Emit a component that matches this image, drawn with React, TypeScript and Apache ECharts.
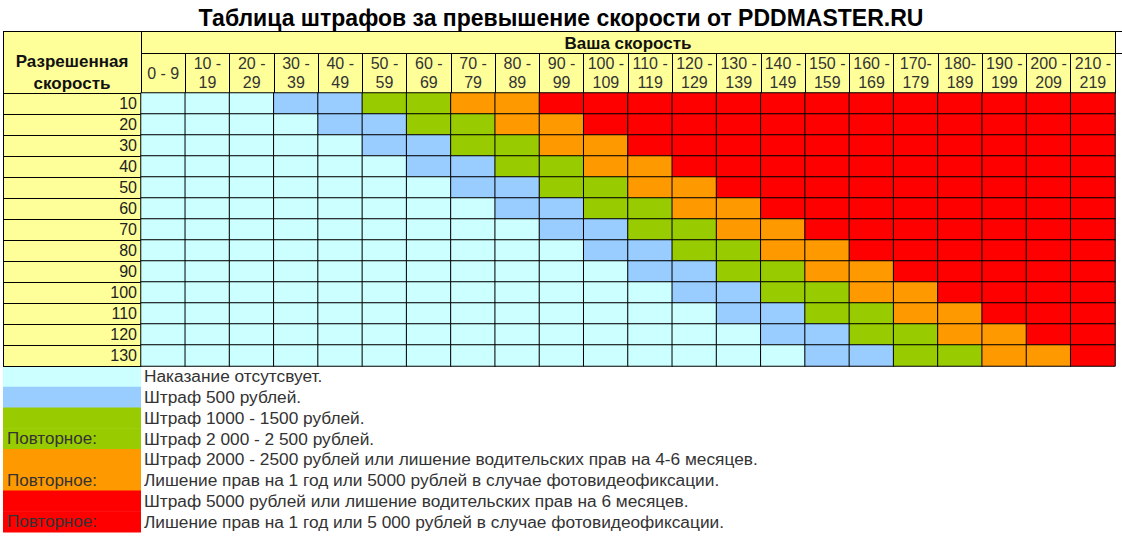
import React, { useEffect, useRef } from "react";
import * as echarts from "echarts";

// ---- Data ----
const speedRanges = [
  "0 - 9", "10 -\n19", "20 -\n29", "30 -\n39", "40 -\n49", "50 -\n59", "60 -\n69",
  "70 -\n79", "80 -\n89", "90 -\n99", "100 -\n109", "110 -\n119", "120 -\n129",
  "130 -\n139", "140 -\n149", "150 -\n159", "160 -\n169", "170-\n179", "180-\n189",
  "190 -\n199", "200 -\n209", "210 -\n219",
];
const allowedSpeeds = ["10", "20", "30", "40", "50", "60", "70", "80", "90", "100", "110", "120", "130"];

// penalty level per cell (0 none, 1 500 rub, 2 1000-1500, 3 2000-2500, 4 5000)
const row10 = [0, 0, 0, 1, 1, 2, 2, 3, 3, 4, 4, 4, 4, 4, 4, 4, 4, 4, 4, 4, 4, 4];
const row20 = [0, 0, 0, 0, 1, 1, 2, 2, 3, 3, 4, 4, 4, 4, 4, 4, 4, 4, 4, 4, 4, 4];
const row30 = [0, 0, 0, 0, 0, 1, 1, 2, 2, 3, 3, 4, 4, 4, 4, 4, 4, 4, 4, 4, 4, 4];
const row40 = [0, 0, 0, 0, 0, 0, 1, 1, 2, 2, 3, 3, 4, 4, 4, 4, 4, 4, 4, 4, 4, 4];
const row50 = [0, 0, 0, 0, 0, 0, 0, 1, 1, 2, 2, 3, 3, 4, 4, 4, 4, 4, 4, 4, 4, 4];
const row60 = [0, 0, 0, 0, 0, 0, 0, 0, 1, 1, 2, 2, 3, 3, 4, 4, 4, 4, 4, 4, 4, 4];
const row70 = [0, 0, 0, 0, 0, 0, 0, 0, 0, 1, 1, 2, 2, 3, 3, 4, 4, 4, 4, 4, 4, 4];
const row80 = [0, 0, 0, 0, 0, 0, 0, 0, 0, 0, 1, 1, 2, 2, 3, 3, 4, 4, 4, 4, 4, 4];
const row90 = [0, 0, 0, 0, 0, 0, 0, 0, 0, 0, 0, 1, 1, 2, 2, 3, 3, 4, 4, 4, 4, 4];
const row100 = [0, 0, 0, 0, 0, 0, 0, 0, 0, 0, 0, 0, 1, 1, 2, 2, 3, 3, 4, 4, 4, 4];
const row110 = [0, 0, 0, 0, 0, 0, 0, 0, 0, 0, 0, 0, 0, 1, 1, 2, 2, 3, 3, 4, 4, 4];
const row120 = [0, 0, 0, 0, 0, 0, 0, 0, 0, 0, 0, 0, 0, 0, 1, 1, 2, 2, 3, 3, 4, 4];
const row130 = [0, 0, 0, 0, 0, 0, 0, 0, 0, 0, 0, 0, 0, 0, 0, 1, 1, 2, 2, 3, 3, 4];
const levelRows = [row10, row20, row30, row40, row50, row60, row70, row80, row90, row100, row110, row120, row130];

const levelColors = ["#CCFFFF", "#99CCFF", "#99CC00", "#FF9900", "#FF0000"];

const titleText = "Таблица штрафов за превышение скорости от PDDMASTER.RU";
const rowHeaderText = "Разрешенная\nскорость";
const colHeaderText = "Ваша скорость";
const repeatLabel = "Повторное:";
const legendLevels = [0, 1, 2, 2, 3, 3, 4, 4];
const legendTexts = [
  "Наказание отсутсвует.",
  "Штраф 500 рублей.",
  "Штраф 1000 - 1500 рублей.",
  "Штраф 2 000 - 2 500 рублей.",
  "Штраф 2000 - 2500 рублей или лишение водительских прав на 4-6 месяцев.",
  "Лишение прав на 1 год или 5000 рублей в случае фотовидеофиксации.",
  "Штраф 5000 рублей или лишение водительских прав на 6 месяцев.",
  "Лишение прав на 1 год или 5 000 рублей в случае фотовидеофиксации.",
];
const legendRepeat = [false, false, false, true, false, true, false, true];

// ---- Layout ----
const W = 1122;
const H = 539;
const FONT = "'Liberation Sans', Arial, sans-serif";
const tableLeft = 3;
const gridLeft = 141;
const gridRight = 1115;
const headTop = 31;
const headMid = 53;
const gridTop = 93;
const gridBottom = 366;
const legendRowH = 20.75;

export default function App() {
  const ref = useRef<HTMLDivElement>(null);
  useEffect(() => {
    if (!ref.current) return;
    const chart = echarts.init(ref.current, null, { renderer: "svg" });

    const data: number[][] = [];
    levelRows.forEach((row, yi) => {
      row.forEach((lv, xi) => data.push([xi, yi, lv]));
    });

    const graphics: any[] = [];
    graphics.push({
      type: "rect", z: -100,
      shape: { x: tableLeft, y: headTop, width: gridRight - tableLeft, height: gridTop - headTop },
      style: { fill: "#FFFF99" },
    });
    graphics.push({
      type: "rect", z: -100,
      shape: { x: tableLeft, y: gridTop, width: gridLeft - tableLeft, height: gridBottom - gridTop },
      style: { fill: "#FFFF99" },
    });
    const line = (x1: number, y1: number, x2: number, y2: number) => ({
      type: "line", z: 100,
      shape: { x1, y1, x2, y2 },
      style: { stroke: "#000", lineWidth: 1 },
    });
    graphics.push(line(tableLeft, headTop + 0.5, W, headTop + 0.5));
    graphics.push(line(gridLeft, headMid + 0.5, W, headMid + 0.5));
    graphics.push(line(tableLeft + 0.5, headTop, tableLeft + 0.5, gridBottom));
    graphics.push(line(gridLeft + 0.5, headTop, gridLeft + 0.5, headMid));
    graphics.push(line(gridRight + 0.5, headTop, gridRight + 0.5, headMid));

    graphics.push({
      type: "text", z: 100, x: W / 2, y: 18,
      style: {
        text: titleText, fill: "#000", font: `bold 23px ${FONT}`,
        align: "center", verticalAlign: "middle",
      },
    });
    graphics.push({
      type: "text", z: 100, x: (tableLeft + gridLeft) / 2, y: 72,
      style: {
        text: rowHeaderText, fill: "#111", font: `bold 17px ${FONT}`,
        align: "center", verticalAlign: "middle", lineHeight: 22,
      },
    });
    graphics.push({
      type: "text", z: 100, x: (gridLeft + gridRight) / 2, y: 43,
      style: {
        text: colHeaderText, fill: "#111", font: `bold 17px ${FONT}`,
        align: "center", verticalAlign: "middle",
      },
    });

    legendTexts.forEach((t, i) => {
      const y0 = gridBottom + legendRowH * i;
      graphics.push({
        type: "rect", z: -50,
        shape: { x: tableLeft, y: y0, width: gridLeft - tableLeft, height: legendRowH + 0.5 },
        style: { fill: levelColors[legendLevels[i]] },
      });
      graphics.push({
        type: "text", z: 100, x: 144, y: y0 + legendRowH / 2,
        style: {
          text: t, fill: "#333", font: `17.3px ${FONT}`,
          align: "left", verticalAlign: "middle",
        },
      });
      if (legendRepeat[i]) {
        graphics.push({
          type: "text", z: 100, x: 7, y: y0 + legendRowH / 2,
          style: {
            text: repeatLabel, fill: "#333", font: `17px ${FONT}`,
            align: "left", verticalAlign: "middle",
          },
        });
      }
    });

    chart.setOption({
      animation: false,
      grid: {
        left: gridLeft, right: W - gridRight, top: gridTop, bottom: H - gridBottom,
        containLabel: false,
      },
      xAxis: {
        type: "category",
        position: "top",
        data: speedRanges,
        axisLine: { show: true, lineStyle: { color: "#000", width: 1 } },
        axisTick: { show: true, interval: 0, length: gridTop - headMid, lineStyle: { color: "#000", width: 1 } },
        axisLabel: {
          interval: 0, margin: 20, verticalAlign: "middle",
          fontSize: 16, lineHeight: 19, color: "#333", fontFamily: FONT,
        },
        splitLine: { show: false },
      },
      yAxis: {
        type: "category",
        inverse: true,
        data: allowedSpeeds,
        axisLine: { show: true, lineStyle: { color: "#000", width: 1 } },
        axisTick: { show: true, interval: 0, length: gridLeft - tableLeft, lineStyle: { color: "#000", width: 1 } },
        axisLabel: { interval: 0, margin: 4, fontSize: 16, color: "#222", fontFamily: FONT },
        splitLine: { show: false },
      },
      visualMap: {
        show: false,
        type: "piecewise",
        dimension: 2,
        seriesIndex: 0,
        pieces: levelColors.map((c, i) => ({ value: i, color: c })),
      },
      series: [
        {
          type: "heatmap",
          data,
          itemStyle: { borderColor: "#000", borderWidth: 1 },
          emphasis: { disabled: true },
        },
      ],
      graphic: graphics,
    });

    return () => chart.dispose();
  }, []);

  return (
    <div
      ref={ref}
      style={{ position: "absolute", left: 0, top: 0, width: W, height: H, background: "#fff" }}
    />
  );
}
